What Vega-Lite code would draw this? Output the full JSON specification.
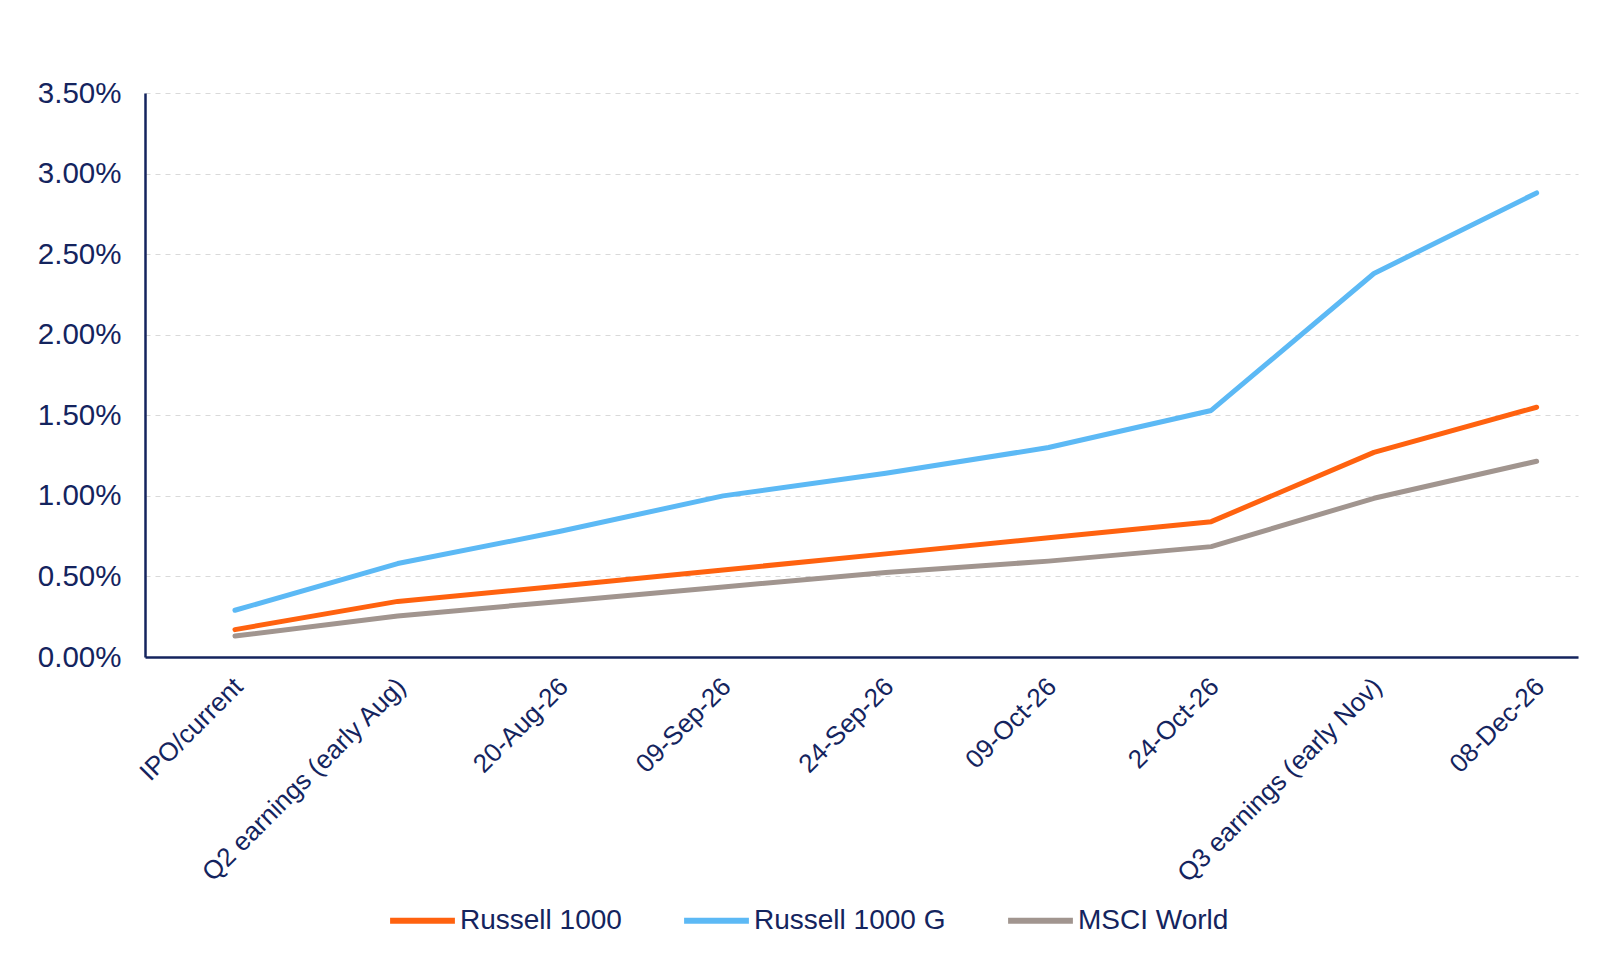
{
  "$schema": "https://vega.github.io/schema/vega-lite/v6.json",
  "autosize": "none",
  "width": 1433,
  "height": 564,
  "padding": {"left": 145, "top": 93, "right": 39, "bottom": 315},
  "background": "#ffffff",
  "config": {
    "view": {"stroke": null},
    "font": "Liberation Sans",
    "axis": {"labelFont": "Liberation Sans", "labelColor": "#14245e", "titleColor": "#14245e"},
    "legend": {"labelFont": "Liberation Sans"}
  },
  "data": {
    "values": [
      {"period": "IPO/current", "series": "Russell 1000", "value": 0.0017},
      {"period": "Q2 earnings (early Aug)", "series": "Russell 1000", "value": 0.00345},
      {"period": "20-Aug-26", "series": "Russell 1000", "value": 0.0044},
      {"period": "09-Sep-26", "series": "Russell 1000", "value": 0.0054},
      {"period": "24-Sep-26", "series": "Russell 1000", "value": 0.0064},
      {"period": "09-Oct-26", "series": "Russell 1000", "value": 0.0074},
      {"period": "24-Oct-26", "series": "Russell 1000", "value": 0.0084},
      {"period": "Q3 earnings (early Nov)", "series": "Russell 1000", "value": 0.0127},
      {"period": "08-Dec-26", "series": "Russell 1000", "value": 0.0155},
      {"period": "IPO/current", "series": "Russell 1000 G", "value": 0.0029},
      {"period": "Q2 earnings (early Aug)", "series": "Russell 1000 G", "value": 0.0058},
      {"period": "20-Aug-26", "series": "Russell 1000 G", "value": 0.0078},
      {"period": "09-Sep-26", "series": "Russell 1000 G", "value": 0.0100},
      {"period": "24-Sep-26", "series": "Russell 1000 G", "value": 0.0114},
      {"period": "09-Oct-26", "series": "Russell 1000 G", "value": 0.0130},
      {"period": "24-Oct-26", "series": "Russell 1000 G", "value": 0.0153},
      {"period": "Q3 earnings (early Nov)", "series": "Russell 1000 G", "value": 0.0238},
      {"period": "08-Dec-26", "series": "Russell 1000 G", "value": 0.0288},
      {"period": "IPO/current", "series": "MSCI World", "value": 0.0013},
      {"period": "Q2 earnings (early Aug)", "series": "MSCI World", "value": 0.00255},
      {"period": "20-Aug-26", "series": "MSCI World", "value": 0.00345},
      {"period": "09-Sep-26", "series": "MSCI World", "value": 0.00435},
      {"period": "24-Sep-26", "series": "MSCI World", "value": 0.00525},
      {"period": "09-Oct-26", "series": "MSCI World", "value": 0.00595},
      {"period": "24-Oct-26", "series": "MSCI World", "value": 0.00685},
      {"period": "Q3 earnings (early Nov)", "series": "MSCI World", "value": 0.00985},
      {"period": "08-Dec-26", "series": "MSCI World", "value": 0.01215}
    ]
  },
  "mark": {"type": "line", "strokeWidth": 5, "strokeCap": "round", "strokeJoin": "round"},
  "encoding": {
    "x": {
      "field": "period",
      "type": "ordinal",
      "sort": null,
      "scale": {"type": "point", "padding": 0.4036, "align": 0.685},
      "axis": {
        "title": null,
        "labelAngle": -45,
        "labelAlign": "right",
        "labelBaseline": "top",
        "labelFontSize": 26,
        "labelPadding": 16,
        "labelOffset": -6,
        "ticks": false,
        "grid": false,
        "domainColor": "#14245e",
        "domainWidth": 2.5,
        "labelOverlap": false,
        "labelLimit": 0
      }
    },
    "y": {
      "field": "value",
      "type": "quantitative",
      "scale": {"domain": [0, 0.035], "nice": false},
      "axis": {
        "title": null,
        "format": ".2%",
        "values": [0, 0.005, 0.01, 0.015, 0.02, 0.025, 0.03, 0.035],
        "labelFontSize": 29.5,
        "labelPadding": 24,
        "ticks": false,
        "domainColor": "#14245e",
        "domainWidth": 2.5,
        "grid": true,
        "gridColor": "#d9d9d9",
        "gridDash": [5, 5],
        "gridWidth": 1.2
      }
    },
    "color": {
      "field": "series",
      "type": "nominal",
      "scale": {
        "domain": ["Russell 1000", "Russell 1000 G", "MSCI World"],
        "range": ["#ff620f", "#5cb9f5", "#a1958f"]
      },
      "legend": {
        "title": null,
        "orient": "none",
        "direction": "horizontal",
        "legendX": 242,
        "legendY": 792,
        "symbolType": "stroke",
        "symbolSize": 4200,
        "symbolStrokeWidth": 6,
        "labelFontSize": 28,
        "labelColor": "#14245e",
        "labelOffset": 2,
        "columnPadding": 50,
        "labelLimit": 0
      }
    }
  }
}
